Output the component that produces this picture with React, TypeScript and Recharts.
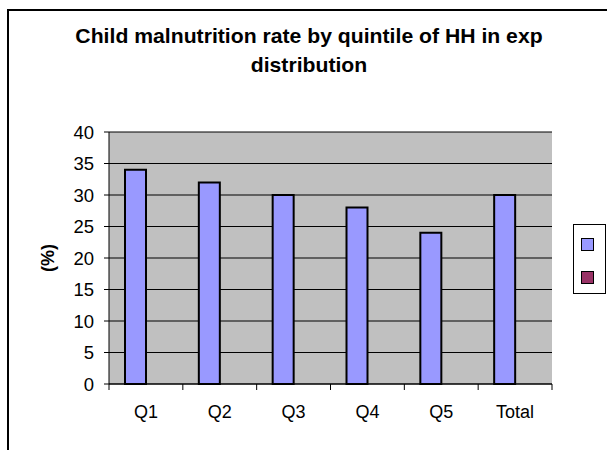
import { BarChart, Bar, XAxis, YAxis, CartesianGrid } from "recharts"

const categories = ["Q1", "Q2", "Q3", "Q4", "Q5", "Total"]
const malnutrition = [34, 32, 30, 28, 24, 30]
const secondSeries = [null, null, null, null, null, null]
const yTicks = [0, 5, 10, 15, 20, 25, 30, 35, 40]
const titleLines = ["Child malnutrition rate by quintile of HH in exp", "distribution"]

const data = categories.map((cat, i) => ({
  cat,
  rate: malnutrition[i],
  other: secondSeries[i],
}))

const W = 607
const H = 450
const PLOT_LEFT = 109
const PLOT_RIGHT = 552
const PLOT_TOP = 132
const PLOT_BOTTOM = 384
const Y_AXIS_W = 60
const X_AXIS_H = 30
const BAND = (PLOT_RIGHT - PLOT_LEFT) / categories.length
const FONT = "Arial, 'Liberation Sans', sans-serif"
const SERIES_COLORS = ["#9999FF", "#993366"]

// category label plus tick marks on the band boundaries
function XTick(props: any) {
  const { x, y, payload, index } = props
  const left = x - BAND / 2
  return (
    <g>
      <line x1={left} x2={left} y1={PLOT_BOTTOM} y2={PLOT_BOTTOM + 6} stroke="#000" strokeWidth={1} />
      {index === categories.length - 1 && (
        <line x1={x + BAND / 2} x2={x + BAND / 2} y1={PLOT_BOTTOM} y2={PLOT_BOTTOM + 6} stroke="#000" strokeWidth={1} />
      )}
      <text x={x} y={y + 26} textAnchor="middle" fontSize={18} fontFamily={FONT} fill="#000">
        {payload.value}
      </text>
    </g>
  )
}

function LegendBox() {
  return (
    <div
      style={{
        position: "absolute",
        left: 573,
        top: 224,
        width: 33,
        height: 70,
        border: "1px solid #000",
        background: "#fff",
        boxSizing: "border-box",
      }}
    >
      {SERIES_COLORS.map((c, i) => (
        <div
          key={c}
          style={{
            position: "absolute",
            left: 7,
            top: 13 + i * 33,
            width: 13,
            height: 13,
            background: c,
            border: "1.5px solid #000",
            boxSizing: "border-box",
          }}
        />
      ))}
    </div>
  )
}

export default function App() {
  return (
    <div style={{ position: "absolute", left: 0, top: 0, width: W, height: H, overflow: "hidden", background: "#fff" }}>
      <div
        style={{
          position: "absolute",
          left: 7,
          top: 9,
          width: 700,
          height: 600,
          border: "2px solid #000",
        }}
      />
      <svg width={W} height={H} style={{ position: "absolute", left: 0, top: 0 }}>
        <g transform="translate(309,0) scale(1.06,1)">
          {titleLines.map((line, i) => (
            <text
              key={line}
              x={0}
              y={43 + i * 29}
              textAnchor="middle"
              fontFamily={FONT}
              fontWeight="bold"
              fontSize={20}
              fill="#000"
            >
              {line}
            </text>
          ))}
        </g>
      </svg>
      <BarChart
        width={W}
        height={H}
        data={data}
        margin={{
          left: PLOT_LEFT - Y_AXIS_W,
          right: W - PLOT_RIGHT,
          top: PLOT_TOP,
          bottom: H - PLOT_BOTTOM - X_AXIS_H,
        }}
        barSize={21}
        barGap={0}
        style={{ position: "absolute", left: 0, top: 0 }}
      >
        <CartesianGrid fill="#C0C0C0" vertical={false} stroke="#000" strokeOpacity={1} />
        <XAxis
          dataKey="cat"
          height={X_AXIS_H}
          tickLine={false}
          axisLine={{ stroke: "#000" }}
          tick={<XTick />}
          interval={0}
        />
        <XAxis xAxisId="top" orientation="top" dataKey="cat" height={0} tick={false} tickLine={false} axisLine={{ stroke: "#808080" }} />
        <YAxis
          width={Y_AXIS_W}
          domain={[0, 40]}
          ticks={yTicks}
          interval={0}
          tickSize={5}
          tickMargin={10}
          tickLine={{ stroke: "#000" }}
          axisLine={{ stroke: "#000" }}
          tick={{ fontSize: 18.5, fontFamily: FONT, fill: "#000" }}
          label={{
            value: "(%)",
            angle: -90,
            position: "insideLeft",
            offset: 0,
            dx: -1,
            style: { fontSize: 18, fontWeight: "bold", fontFamily: FONT, fill: "#000", textAnchor: "middle" },
          }}
        />
        <YAxis yAxisId="right" orientation="right" width={0} domain={[0, 40]} tick={false} tickLine={false} axisLine={{ stroke: "#808080" }} />
        <Bar dataKey="rate" fill={SERIES_COLORS[0]} stroke="#000" strokeWidth={2} isAnimationActive={false} />
        <Bar dataKey="other" fill={SERIES_COLORS[1]} stroke="#000" strokeWidth={2} isAnimationActive={false} />
      </BarChart>
      <LegendBox />
    </div>
  )
}
